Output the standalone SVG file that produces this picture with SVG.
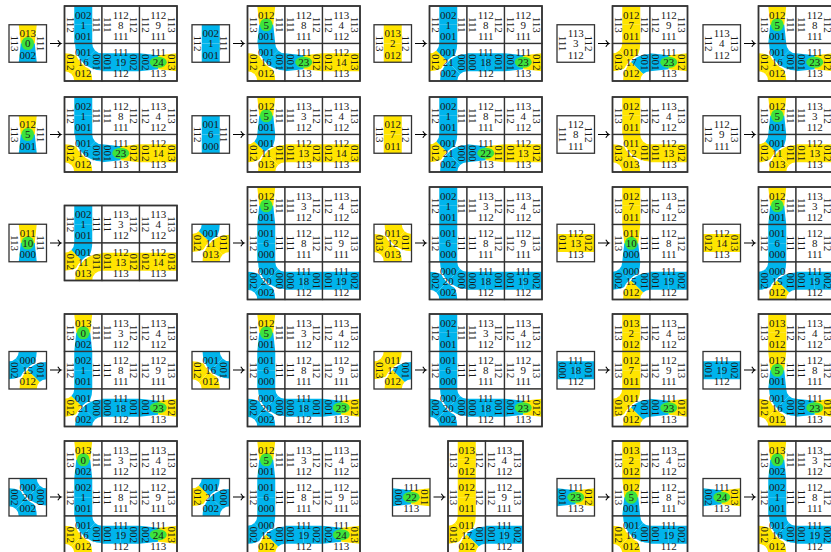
<svg xmlns="http://www.w3.org/2000/svg" xmlns:xlink="http://www.w3.org/1999/xlink" width="831" height="552" viewBox="0 0 831 552">
<style>
.l{font-family:"Liberation Serif","DejaVu Serif",serif;font-size:11px;fill:#1a1a1a;text-anchor:middle}
.bg{fill:#fff}
.bd{fill:none;stroke:#333;stroke-width:1.3}
.pb{fill:none;stroke:#333;stroke-width:1.6}
.Y{fill:#ffe400}
.B{fill:#00b4ec}
.G{fill:#3de33d}
.wo{fill:none;stroke:#fff;stroke-width:1.6}
.ar{fill:none;stroke:#000;stroke-width:1.1}
</style>
<defs>
<rect id="sT" x="9.75" y="0" width="18" height="18.75"/>
<path id="sG" d="M9.75,0H27.75L25.75,18.75H11.75Z"/>
<path id="h1" d="M9.75,0A27.75,27.75 0 0 0 17.88,19.62L30.61,6.89A9.75,9.75 0 0 1 27.75,0Z"/>
<path id="h2" d="M17.88,19.62A27.75,27.75 0 0 0 37.5,27.75L37.5,9.75A9.75,9.75 0 0 1 30.61,6.89Z"/>
<path id="ao" d="M9.75,0A27.75,27.75 0 0 0 37.5,27.75"/>
<ellipse id="gv" cx="18.75" cy="18.75" rx="6.3" ry="6.6"/>
<ellipse id="gh" cx="18.75" cy="18.75" rx="8.5" ry="5.5"/>

<g id="t0"><rect class="bg" width="37.5" height="37.5"/><use href="#sG" class="Y"/><use href="#sG" class="B" transform="rotate(180 18.75 18.75)"/><use href="#gv" class="G"/>
<text class="l" x="18.75" y="12.5">013</text><text class="l" x="18.75" y="22.6">0</text><text class="l" x="18.75" y="33.8">002</text><text class="l" transform="translate(2,18.75) rotate(90)">113</text><text class="l" transform="translate(28.2,18.75) rotate(90)">111</text><rect class="bd" width="37.5" height="37.5"/></g>
<g id="t1"><rect class="bg" width="37.5" height="37.5"/><use href="#sT" class="B"/><use href="#sT" class="B" transform="rotate(180 18.75 18.75)"/>
<text class="l" x="18.75" y="12.5">002</text><text class="l" x="18.75" y="22.6">1</text><text class="l" x="18.75" y="33.8">001</text><text class="l" transform="translate(2,18.75) rotate(90)">112</text><text class="l" transform="translate(28.2,18.75) rotate(90)">111</text><rect class="bd" width="37.5" height="37.5"/></g>
<g id="t2"><rect class="bg" width="37.5" height="37.5"/><use href="#sT" class="Y"/><use href="#sT" class="Y" transform="rotate(180 18.75 18.75)"/>
<text class="l" x="18.75" y="12.5">013</text><text class="l" x="18.75" y="22.6">2</text><text class="l" x="18.75" y="33.8">012</text><text class="l" transform="translate(2,18.75) rotate(90)">113</text><text class="l" transform="translate(28.2,18.75) rotate(90)">112</text><rect class="bd" width="37.5" height="37.5"/></g>
<g id="t3"><rect class="bg" width="37.5" height="37.5"/>
<text class="l" x="18.75" y="12.5">113</text><text class="l" x="18.75" y="22.6">3</text><text class="l" x="18.75" y="33.8">112</text><text class="l" transform="translate(2,18.75) rotate(90)">111</text><text class="l" transform="translate(28.2,18.75) rotate(90)">112</text><rect class="bd" width="37.5" height="37.5"/></g>
<g id="t4"><rect class="bg" width="37.5" height="37.5"/>
<text class="l" x="18.75" y="12.5">113</text><text class="l" x="18.75" y="22.6">4</text><text class="l" x="18.75" y="33.8">112</text><text class="l" transform="translate(2,18.75) rotate(90)">112</text><text class="l" transform="translate(28.2,18.75) rotate(90)">113</text><rect class="bd" width="37.5" height="37.5"/></g>
<g id="t5"><rect class="bg" width="37.5" height="37.5"/><use href="#sG" class="Y"/><use href="#sG" class="B" transform="rotate(180 18.75 18.75)"/><use href="#gv" class="G"/>
<text class="l" x="18.75" y="12.5">012</text><text class="l" x="18.75" y="22.6">5</text><text class="l" x="18.75" y="33.8">001</text><text class="l" transform="translate(2,18.75) rotate(90)">113</text><text class="l" transform="translate(28.2,18.75) rotate(90)">111</text><rect class="bd" width="37.5" height="37.5"/></g>
<g id="t6"><rect class="bg" width="37.5" height="37.5"/><use href="#sT" class="B"/><use href="#sT" class="B" transform="rotate(180 18.75 18.75)"/>
<text class="l" x="18.75" y="12.5">001</text><text class="l" x="18.75" y="22.6">6</text><text class="l" x="18.75" y="33.8">000</text><text class="l" transform="translate(2,18.75) rotate(90)">112</text><text class="l" transform="translate(28.2,18.75) rotate(90)">111</text><rect class="bd" width="37.5" height="37.5"/></g>
<g id="t7"><rect class="bg" width="37.5" height="37.5"/><use href="#sT" class="Y"/><use href="#sT" class="Y" transform="rotate(180 18.75 18.75)"/>
<text class="l" x="18.75" y="12.5">012</text><text class="l" x="18.75" y="22.6">7</text><text class="l" x="18.75" y="33.8">011</text><text class="l" transform="translate(2,18.75) rotate(90)">113</text><text class="l" transform="translate(28.2,18.75) rotate(90)">112</text><rect class="bd" width="37.5" height="37.5"/></g>
<g id="t8"><rect class="bg" width="37.5" height="37.5"/>
<text class="l" x="18.75" y="12.5">112</text><text class="l" x="18.75" y="22.6">8</text><text class="l" x="18.75" y="33.8">111</text><text class="l" transform="translate(2,18.75) rotate(90)">111</text><text class="l" transform="translate(28.2,18.75) rotate(90)">112</text><rect class="bd" width="37.5" height="37.5"/></g>
<g id="t9"><rect class="bg" width="37.5" height="37.5"/>
<text class="l" x="18.75" y="12.5">112</text><text class="l" x="18.75" y="22.6">9</text><text class="l" x="18.75" y="33.8">111</text><text class="l" transform="translate(2,18.75) rotate(90)">112</text><text class="l" transform="translate(28.2,18.75) rotate(90)">113</text><rect class="bd" width="37.5" height="37.5"/></g>
<g id="t10"><rect class="bg" width="37.5" height="37.5"/><use href="#sG" class="Y"/><use href="#sG" class="B" transform="rotate(180 18.75 18.75)"/><use href="#gv" class="G"/>
<text class="l" x="18.75" y="12.5">011</text><text class="l" x="18.75" y="22.6">10</text><text class="l" x="18.75" y="33.8">000</text><text class="l" transform="translate(2,18.75) rotate(90)">113</text><text class="l" transform="translate(28.2,18.75) rotate(90)">111</text><rect class="bd" width="37.5" height="37.5"/></g>
<g id="t11"><rect class="bg" width="37.5" height="37.5"/>
<g transform="rotate(270 18.75 18.75)"><use href="#h1" class="Y"/><use href="#h2" class="B"/></g>
<g transform="rotate(90 18.75 18.75)"><use href="#h1" class="Y"/><use href="#h2" class="Y"/><use href="#ao" class="wo"/></g>
<text class="l" x="18.75" y="12.5">001</text><text class="l" x="18.75" y="22.6">11</text><text class="l" x="18.75" y="33.8">013</text><text class="l" transform="translate(2,18.75) rotate(90)">012</text><text class="l" transform="translate(28.2,18.75) rotate(90)">011</text><rect class="bd" width="37.5" height="37.5"/></g>
<g id="t12"><rect class="bg" width="37.5" height="37.5"/>
<g transform="rotate(180 18.75 18.75)"><use href="#h1" class="Y"/><use href="#h2" class="Y"/></g>
<g><use href="#h1" class="Y"/><use href="#h2" class="Y"/><use href="#ao" class="wo"/></g>
<text class="l" x="18.75" y="12.5">011</text><text class="l" x="18.75" y="22.6">12</text><text class="l" x="18.75" y="33.8">013</text><text class="l" transform="translate(2,18.75) rotate(90)">013</text><text class="l" transform="translate(28.2,18.75) rotate(90)">011</text><rect class="bd" width="37.5" height="37.5"/></g>
<g id="t13"><rect class="bg" width="37.5" height="37.5"/><use href="#sT" class="Y" transform="rotate(270 18.75 18.75)"/><use href="#sT" class="Y" transform="rotate(90 18.75 18.75)"/>
<text class="l" x="18.75" y="12.5">112</text><text class="l" x="18.75" y="22.6">13</text><text class="l" x="18.75" y="33.8">113</text><text class="l" transform="translate(2,18.75) rotate(90)">011</text><text class="l" transform="translate(28.2,18.75) rotate(90)">012</text><rect class="bd" width="37.5" height="37.5"/></g>
<g id="t14"><rect class="bg" width="37.5" height="37.5"/><use href="#sT" class="Y" transform="rotate(270 18.75 18.75)"/><use href="#sT" class="Y" transform="rotate(90 18.75 18.75)"/>
<text class="l" x="18.75" y="12.5">112</text><text class="l" x="18.75" y="22.6">14</text><text class="l" x="18.75" y="33.8">113</text><text class="l" transform="translate(2,18.75) rotate(90)">012</text><text class="l" transform="translate(28.2,18.75) rotate(90)">013</text><rect class="bd" width="37.5" height="37.5"/></g>
<g id="t15"><rect class="bg" width="37.5" height="37.5"/>
<g transform="rotate(270 18.75 18.75)"><use href="#h1" class="B"/><use href="#h2" class="B"/></g>
<g transform="rotate(90 18.75 18.75)"><use href="#h1" class="B"/><use href="#h2" class="Y"/><use href="#ao" class="wo"/></g>
<text class="l" x="18.75" y="12.5">000</text><text class="l" x="18.75" y="22.6">15</text><text class="l" x="18.75" y="33.8">012</text><text class="l" transform="translate(2,18.75) rotate(90)">002</text><text class="l" transform="translate(28.2,18.75) rotate(90)">001</text><rect class="bd" width="37.5" height="37.5"/></g>
<g id="t16"><rect class="bg" width="37.5" height="37.5"/>
<g transform="rotate(180 18.75 18.75)"><use href="#h1" class="Y"/><use href="#h2" class="Y"/></g>
<g><use href="#h1" class="B"/><use href="#h2" class="B"/><use href="#ao" class="wo"/></g>
<text class="l" x="18.75" y="12.5">001</text><text class="l" x="18.75" y="22.6">16</text><text class="l" x="18.75" y="33.8">012</text><text class="l" transform="translate(2,18.75) rotate(90)">012</text><text class="l" transform="translate(28.2,18.75) rotate(90)">001</text><rect class="bd" width="37.5" height="37.5"/></g>
<g id="t17"><rect class="bg" width="37.5" height="37.5"/>
<g transform="rotate(270 18.75 18.75)"><use href="#h1" class="Y"/><use href="#h2" class="Y"/></g>
<g transform="rotate(90 18.75 18.75)"><use href="#h1" class="B"/><use href="#h2" class="Y"/><use href="#ao" class="wo"/></g>
<text class="l" x="18.75" y="12.5">011</text><text class="l" x="18.75" y="22.6">17</text><text class="l" x="18.75" y="33.8">012</text><text class="l" transform="translate(2,18.75) rotate(90)">013</text><text class="l" transform="translate(28.2,18.75) rotate(90)">001</text><rect class="bd" width="37.5" height="37.5"/></g>
<g id="t18"><rect class="bg" width="37.5" height="37.5"/><use href="#sT" class="B" transform="rotate(270 18.75 18.75)"/><use href="#sT" class="B" transform="rotate(90 18.75 18.75)"/>
<text class="l" x="18.75" y="12.5">111</text><text class="l" x="18.75" y="22.6">18</text><text class="l" x="18.75" y="33.8">112</text><text class="l" transform="translate(2,18.75) rotate(90)">000</text><text class="l" transform="translate(28.2,18.75) rotate(90)">001</text><rect class="bd" width="37.5" height="37.5"/></g>
<g id="t19"><rect class="bg" width="37.5" height="37.5"/><use href="#sT" class="B" transform="rotate(270 18.75 18.75)"/><use href="#sT" class="B" transform="rotate(90 18.75 18.75)"/>
<text class="l" x="18.75" y="12.5">111</text><text class="l" x="18.75" y="22.6">19</text><text class="l" x="18.75" y="33.8">112</text><text class="l" transform="translate(2,18.75) rotate(90)">001</text><text class="l" transform="translate(28.2,18.75) rotate(90)">002</text><rect class="bd" width="37.5" height="37.5"/></g>
<g id="t20"><rect class="bg" width="37.5" height="37.5"/>
<g transform="rotate(180 18.75 18.75)"><use href="#h1" class="B"/><use href="#h2" class="B"/></g>
<g><use href="#h1" class="B"/><use href="#h2" class="B"/><use href="#ao" class="wo"/></g>
<text class="l" x="18.75" y="12.5">000</text><text class="l" x="18.75" y="22.6">20</text><text class="l" x="18.75" y="33.8">002</text><text class="l" transform="translate(2,18.75) rotate(90)">002</text><text class="l" transform="translate(28.2,18.75) rotate(90)">000</text><rect class="bd" width="37.5" height="37.5"/></g>
<g id="t21"><rect class="bg" width="37.5" height="37.5"/>
<g transform="rotate(270 18.75 18.75)"><use href="#h1" class="Y"/><use href="#h2" class="B"/></g>
<g transform="rotate(90 18.75 18.75)"><use href="#h1" class="B"/><use href="#h2" class="B"/><use href="#ao" class="wo"/></g>
<text class="l" x="18.75" y="12.5">001</text><text class="l" x="18.75" y="22.6">21</text><text class="l" x="18.75" y="33.8">002</text><text class="l" transform="translate(2,18.75) rotate(90)">012</text><text class="l" transform="translate(28.2,18.75) rotate(90)">000</text><rect class="bd" width="37.5" height="37.5"/></g>
<g id="t22"><rect class="bg" width="37.5" height="37.5"/><use href="#sG" class="B" transform="rotate(270 18.75 18.75)"/><use href="#sG" class="Y" transform="rotate(90 18.75 18.75)"/><use href="#gh" class="G"/>
<text class="l" x="18.75" y="12.5">111</text><text class="l" x="18.75" y="22.6">22</text><text class="l" x="18.75" y="33.8">113</text><text class="l" transform="translate(2,18.75) rotate(90)">000</text><text class="l" transform="translate(28.2,18.75) rotate(90)">011</text><rect class="bd" width="37.5" height="37.5"/></g>
<g id="t23"><rect class="bg" width="37.5" height="37.5"/><use href="#sG" class="B" transform="rotate(270 18.75 18.75)"/><use href="#sG" class="Y" transform="rotate(90 18.75 18.75)"/><use href="#gh" class="G"/>
<text class="l" x="18.75" y="12.5">111</text><text class="l" x="18.75" y="22.6">23</text><text class="l" x="18.75" y="33.8">113</text><text class="l" transform="translate(2,18.75) rotate(90)">001</text><text class="l" transform="translate(28.2,18.75) rotate(90)">012</text><rect class="bd" width="37.5" height="37.5"/></g>
<g id="t24"><rect class="bg" width="37.5" height="37.5"/><use href="#sG" class="B" transform="rotate(270 18.75 18.75)"/><use href="#sG" class="Y" transform="rotate(90 18.75 18.75)"/><use href="#gh" class="G"/>
<text class="l" x="18.75" y="12.5">111</text><text class="l" x="18.75" y="22.6">24</text><text class="l" x="18.75" y="33.8">113</text><text class="l" transform="translate(2,18.75) rotate(90)">002</text><text class="l" transform="translate(28.2,18.75) rotate(90)">013</text><rect class="bd" width="37.5" height="37.5"/></g>
</defs>
<rect width="831" height="552" fill="#fff"/>

<g id="connectors">
<path class="ar" d="M50,43.5H61M57.8,40.3Q59.5,43 61,43.5Q59.5,44 57.8,46.7"/>
<path class="ar" d="M233,43.5H244M240.8,40.3Q242.5,43 244,43.5Q242.5,44 240.8,46.7"/>
<path class="ar" d="M415,43.5H426M422.8,40.3Q424.5,43 426,43.5Q424.5,44 422.8,46.7"/>
<path class="ar" d="M598,43.5H609M605.8,40.3Q607.5,43 609,43.5Q607.5,44 605.8,46.7"/>
<path class="ar" d="M744,43.5H755M751.8,40.3Q753.5,43 755,43.5Q753.5,44 751.8,46.7"/>
<path class="ar" d="M50,134.5H61M57.8,131.3Q59.5,134 61,134.5Q59.5,135 57.8,137.7"/>
<path class="ar" d="M233,134.5H244M240.8,131.3Q242.5,134 244,134.5Q242.5,135 240.8,137.7"/>
<path class="ar" d="M415,134.5H426M422.8,131.3Q424.5,134 426,134.5Q424.5,135 422.8,137.7"/>
<path class="ar" d="M598,134.5H609M605.8,131.3Q607.5,134 609,134.5Q607.5,135 605.8,137.7"/>
<path class="ar" d="M744,134.5H755M751.8,131.3Q753.5,134 755,134.5Q753.5,135 751.8,137.7"/>
<path class="ar" d="M50,243H61M57.8,239.8Q59.5,242.5 61,243Q59.5,243.5 57.8,246.2"/>
<path class="ar" d="M233,243H244M240.8,239.8Q242.5,242.5 244,243Q242.5,243.5 240.8,246.2"/>
<path class="ar" d="M415,243H426M422.8,239.8Q424.5,242.5 426,243Q424.5,243.5 422.8,246.2"/>
<path class="ar" d="M598,243H609M605.8,239.8Q607.5,242.5 609,243Q607.5,243.5 605.8,246.2"/>
<path class="ar" d="M744,243H755M751.8,239.8Q753.5,242.5 755,243Q753.5,243.5 751.8,246.2"/>
<path class="ar" d="M50,370H61M57.8,366.8Q59.5,369.5 61,370Q59.5,370.5 57.8,373.2"/>
<path class="ar" d="M233,370H244M240.8,366.8Q242.5,369.5 244,370Q242.5,370.5 240.8,373.2"/>
<path class="ar" d="M415,370H426M422.8,366.8Q424.5,369.5 426,370Q424.5,370.5 422.8,373.2"/>
<path class="ar" d="M598,370H609M605.8,366.8Q607.5,369.5 609,370Q607.5,370.5 605.8,373.2"/>
<path class="ar" d="M744,370H755M751.8,366.8Q753.5,369.5 755,370Q753.5,370.5 751.8,373.2"/>
<path class="ar" d="M50,497H61M57.8,493.8Q59.5,496.5 61,497Q59.5,497.5 57.8,500.2"/>
<path class="ar" d="M233,497H244M240.8,493.8Q242.5,496.5 244,497Q242.5,497.5 240.8,500.2"/>
<path class="ar" d="M433.5,497H444.5M441.3,493.8Q443,496.5 444.5,497Q443,497.5 441.3,500.2"/>
<path class="ar" d="M598,497H609M605.8,493.8Q607.5,496.5 609,497Q607.5,497.5 605.8,500.2"/>
<path class="ar" d="M744,497H755M751.8,493.8Q753.5,496.5 755,497Q753.5,497.5 751.8,500.2"/>
</g>

<g id="e0"><use href="#t0" x="9" y="24.75"/><g transform="translate(64.5,6)"><use href="#t1"/><use href="#t8" x="37.5"/><use href="#t9" x="75"/><use href="#t16" y="37.5"/><use href="#t19" x="37.5" y="37.5"/><use href="#t24" x="75" y="37.5"/><rect class="pb" width="112.5" height="75"/></g></g>
<g id="e1"><use href="#t1" x="192" y="24.75"/><g transform="translate(247.5,6)"><use href="#t5"/><use href="#t8" x="37.5"/><use href="#t4" x="75"/><use href="#t16" y="37.5"/><use href="#t23" x="37.5" y="37.5"/><use href="#t14" x="75" y="37.5"/><rect class="pb" width="112.5" height="75"/></g></g>
<g id="e2"><use href="#t2" x="374" y="24.75"/><g transform="translate(429.5,6)"><use href="#t1"/><use href="#t8" x="37.5"/><use href="#t9" x="75"/><use href="#t21" y="37.5"/><use href="#t18" x="37.5" y="37.5"/><use href="#t23" x="75" y="37.5"/><rect class="pb" width="112.5" height="75"/></g></g>
<g id="e3"><use href="#t3" x="557" y="24.75"/><g transform="translate(612.5,6)"><use href="#t7"/><use href="#t9" x="37.5"/><use href="#t17" y="37.5"/><use href="#t23" x="37.5" y="37.5"/><rect class="pb" width="75" height="75"/></g></g>
<g id="e4"><use href="#t4" x="703" y="24.75"/><g transform="translate(758.5,6)"><use href="#t5"/><use href="#t8" x="37.5"/><use href="#t16" y="37.5"/><use href="#t23" x="37.5" y="37.5"/><rect class="pb" width="75" height="75"/></g></g>

<g id="e5"><use href="#t5" x="9" y="115.75"/><g transform="translate(64.5,97)"><use href="#t1"/><use href="#t8" x="37.5"/><use href="#t4" x="75"/><use href="#t16" y="37.5"/><use href="#t23" x="37.5" y="37.5"/><use href="#t14" x="75" y="37.5"/><rect class="pb" width="112.5" height="75"/></g></g>
<g id="e6"><use href="#t6" x="192" y="115.75"/><g transform="translate(247.5,97)"><use href="#t5"/><use href="#t3" x="37.5"/><use href="#t4" x="75"/><use href="#t11" y="37.5"/><use href="#t13" x="37.5" y="37.5"/><use href="#t14" x="75" y="37.5"/><rect class="pb" width="112.5" height="75"/></g></g>
<g id="e7"><use href="#t7" x="374" y="115.75"/><g transform="translate(429.5,97)"><use href="#t1"/><use href="#t8" x="37.5"/><use href="#t4" x="75"/><use href="#t21" y="37.5"/><use href="#t22" x="37.5" y="37.5"/><use href="#t13" x="75" y="37.5"/><rect class="pb" width="112.5" height="75"/></g></g>
<g id="e8"><use href="#t8" x="557" y="115.75"/><g transform="translate(612.5,97)"><use href="#t7"/><use href="#t4" x="37.5"/><use href="#t12" y="37.5"/><use href="#t13" x="37.5" y="37.5"/><rect class="pb" width="75" height="75"/></g></g>
<g id="e9"><use href="#t9" x="703" y="115.75"/><g transform="translate(758.5,97)"><use href="#t5"/><use href="#t3" x="37.5"/><use href="#t11" y="37.5"/><use href="#t13" x="37.5" y="37.5"/><rect class="pb" width="75" height="75"/></g></g>

<g id="e10"><use href="#t10" x="9" y="224.25"/><g transform="translate(64.5,205.5)"><use href="#t1"/><use href="#t3" x="37.5"/><use href="#t4" x="75"/><use href="#t11" y="37.5"/><use href="#t13" x="37.5" y="37.5"/><use href="#t14" x="75" y="37.5"/><rect class="pb" width="112.5" height="75"/></g></g>
<g id="e11"><use href="#t11" x="192" y="224.25"/><g transform="translate(247.5,187)"><use href="#t5"/><use href="#t3" x="37.5"/><use href="#t4" x="75"/><use href="#t6" y="37.5"/><use href="#t8" x="37.5" y="37.5"/><use href="#t9" x="75" y="37.5"/><use href="#t20" y="75"/><use href="#t18" x="37.5" y="75"/><use href="#t19" x="75" y="75"/><rect class="pb" width="112.5" height="112.5"/></g></g>
<g id="e12"><use href="#t12" x="374" y="224.25"/><g transform="translate(429.5,187)"><use href="#t1"/><use href="#t3" x="37.5"/><use href="#t4" x="75"/><use href="#t6" y="37.5"/><use href="#t8" x="37.5" y="37.5"/><use href="#t9" x="75" y="37.5"/><use href="#t20" y="75"/><use href="#t18" x="37.5" y="75"/><use href="#t19" x="75" y="75"/><rect class="pb" width="112.5" height="112.5"/></g></g>
<g id="e13"><use href="#t13" x="557" y="224.25"/><g transform="translate(612.5,187)"><use href="#t7"/><use href="#t4" x="37.5"/><use href="#t10" y="37.5"/><use href="#t8" x="37.5" y="37.5"/><use href="#t15" y="75"/><use href="#t19" x="37.5" y="75"/><rect class="pb" width="75" height="112.5"/></g></g>
<g id="e14"><use href="#t14" x="703" y="224.25"/><g transform="translate(758.5,187)"><use href="#t5"/><use href="#t3" x="37.5"/><use href="#t6" y="37.5"/><use href="#t8" x="37.5" y="37.5"/><use href="#t15" y="75"/><use href="#t19" x="37.5" y="75"/><rect class="pb" width="75" height="112.5"/></g></g>

<g id="e15"><use href="#t15" x="9" y="351.5"/><g transform="translate(64.5,314)"><use href="#t0"/><use href="#t3" x="37.5"/><use href="#t4" x="75"/><use href="#t1" y="37.5"/><use href="#t8" x="37.5" y="37.5"/><use href="#t9" x="75" y="37.5"/><use href="#t21" y="75"/><use href="#t18" x="37.5" y="75"/><use href="#t23" x="75" y="75"/><rect class="pb" width="112.5" height="112.5"/></g></g>
<g id="e16"><use href="#t16" x="192" y="351.5"/><g transform="translate(247.5,314)"><use href="#t5"/><use href="#t3" x="37.5"/><use href="#t4" x="75"/><use href="#t6" y="37.5"/><use href="#t8" x="37.5" y="37.5"/><use href="#t9" x="75" y="37.5"/><use href="#t20" y="75"/><use href="#t18" x="37.5" y="75"/><use href="#t23" x="75" y="75"/><rect class="pb" width="112.5" height="112.5"/></g></g>
<g id="e17"><use href="#t17" x="374" y="351.5"/><g transform="translate(429.5,314)"><use href="#t1"/><use href="#t3" x="37.5"/><use href="#t4" x="75"/><use href="#t6" y="37.5"/><use href="#t8" x="37.5" y="37.5"/><use href="#t9" x="75" y="37.5"/><use href="#t20" y="75"/><use href="#t18" x="37.5" y="75"/><use href="#t23" x="75" y="75"/><rect class="pb" width="112.5" height="112.5"/></g></g>
<g id="e18"><use href="#t18" x="557" y="351.5"/><g transform="translate(612.5,314)"><use href="#t2"/><use href="#t4" x="37.5"/><use href="#t7" y="37.5"/><use href="#t9" x="37.5" y="37.5"/><use href="#t17" y="75"/><use href="#t23" x="37.5" y="75"/><rect class="pb" width="75" height="112.5"/></g></g>
<g id="e19"><use href="#t19" x="703" y="351.5"/><g transform="translate(758.5,314)"><use href="#t2"/><use href="#t4" x="37.5"/><use href="#t5" y="37.5"/><use href="#t8" x="37.5" y="37.5"/><use href="#t16" y="75"/><use href="#t23" x="37.5" y="75"/><rect class="pb" width="75" height="112.5"/></g></g>

<g id="e20"><use href="#t20" x="9" y="478.5"/><g transform="translate(64.5,441)"><use href="#t0"/><use href="#t3" x="37.5"/><use href="#t4" x="75"/><use href="#t1" y="37.5"/><use href="#t8" x="37.5" y="37.5"/><use href="#t9" x="75" y="37.5"/><use href="#t16" y="75"/><use href="#t19" x="37.5" y="75"/><use href="#t24" x="75" y="75"/><rect class="pb" width="112.5" height="112.5"/></g></g>
<g id="e21"><use href="#t21" x="192" y="478.5"/><g transform="translate(247.5,441)"><use href="#t5"/><use href="#t3" x="37.5"/><use href="#t4" x="75"/><use href="#t6" y="37.5"/><use href="#t8" x="37.5" y="37.5"/><use href="#t9" x="75" y="37.5"/><use href="#t15" y="75"/><use href="#t19" x="37.5" y="75"/><use href="#t24" x="75" y="75"/><rect class="pb" width="112.5" height="112.5"/></g></g>
<g id="e22"><use href="#t22" x="392.5" y="478.5"/><g transform="translate(448,441)"><use href="#t2"/><use href="#t4" x="37.5"/><use href="#t7" y="37.5"/><use href="#t9" x="37.5" y="37.5"/><use href="#t17" y="75"/><use href="#t19" x="37.5" y="75"/><rect class="pb" width="75" height="112.5"/></g></g>
<g id="e23"><use href="#t23" x="557" y="478.5"/><g transform="translate(612.5,441)"><use href="#t2"/><use href="#t4" x="37.5"/><use href="#t5" y="37.5"/><use href="#t8" x="37.5" y="37.5"/><use href="#t16" y="75"/><use href="#t19" x="37.5" y="75"/><rect class="pb" width="75" height="112.5"/></g></g>
<g id="e24"><use href="#t24" x="703" y="478.5"/><g transform="translate(758.5,441)"><use href="#t0"/><use href="#t3" x="37.5"/><use href="#t1" y="37.5"/><use href="#t8" x="37.5" y="37.5"/><use href="#t16" y="75"/><use href="#t19" x="37.5" y="75"/><rect class="pb" width="75" height="112.5"/></g></g>
</svg>
